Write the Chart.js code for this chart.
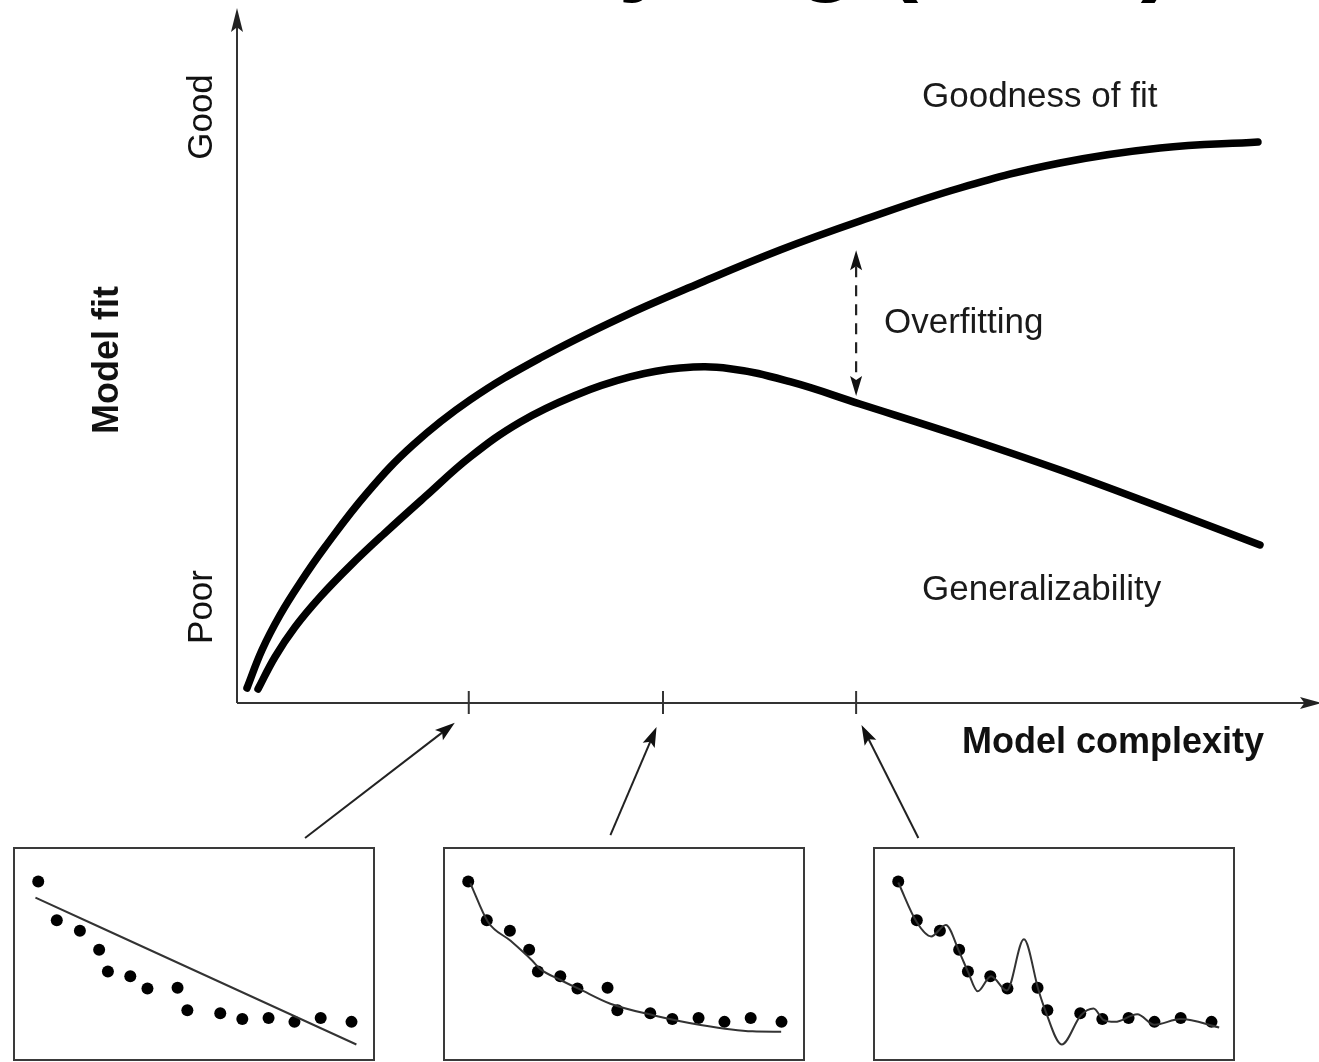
<!DOCTYPE html>
<html><head><meta charset="utf-8">
<script src="https://cdn.jsdelivr.net/npm/chart.js@4"></script>
<style>
html,body{margin:0;padding:0;background:#fff;overflow:hidden}
#wrap{position:relative;width:1319px;height:1062px;background:#fff}
#main{position:absolute;left:0;top:0}
.inset{position:absolute;top:847px;width:362px;height:214px}
.inset canvas{position:absolute;left:0;top:0}
.frame{position:absolute;left:0;top:0;right:0;bottom:0;border:2px solid #3a3a3a;box-sizing:border-box;pointer-events:none}
</style></head>
<body><div id="wrap">
<canvas id="main" width="1319" height="1062" style="width:1319px;height:1062px"></canvas>
<div class="inset" style="left:13px"><canvas id="in1" width="362" height="214" style="width:362px;height:214px"></canvas><div class="frame"></div></div>
<div class="inset" style="left:443px"><canvas id="in2" width="362" height="214" style="width:362px;height:214px"></canvas><div class="frame"></div></div>
<div class="inset" style="left:873px"><canvas id="in3" width="362" height="214" style="width:362px;height:214px"></canvas><div class="frame"></div></div>
</div>
<script>
// ---- Main chart data (model complexity 0..100, model fit 0..100) ----
const goodnessX = [0.93,2.33,4.01,5.87,8.20,12.12,16.40,21.71,28.24,35.69,43.15,50.61,58.06,67.38,76.70,86.02,95.15];
const goodnessY = [2.19,7.74,12.85,17.52,22.77,30.66,37.66,44.23,50.36,56.20,61.31,66.13,70.36,75.18,78.83,81.02,81.90];
const generalX  = [1.96,3.54,5.41,7.74,10.53,13.79,17.52,21.71,26.37,31.50,36.63,41.29,45.95,51.54,58.06,67.38,76.70,86.02,95.34];
const generalY  = [2.04,6.72,11.09,15.47,20.00,24.82,30.10,35.90,41.00,44.90,47.60,48.90,48.80,46.90,43.65,38.98,34.01,28.61,23.07];
const complexityTicks = [21.6, 39.7, 57.7];
const overfitGap = [66.1, 44.8];         // y range of the dashed arrow, at x = complexityTicks[2]
const title = "Pitt & Myung (2002)";
const yAxisTitle = "Model fit";
const xAxisTitle = "Model complexity";
const yTickLabels = ["Poor", "Good"];
const curveLabels = ["Goodness of fit", "Generalizability", "Overfitting"];

// ---- Inset data (shared sample, three fits) ----
const sampleX = [5.5,10.8,17.4,22.9,25.4,31.8,36.7,45.3,48.1,57.5,63.8,71.3,78.7,86.2,95.0];
const sampleY = [85.9,66.7,61.5,52.1,41.3,39.0,32.9,33.3,22.1,20.7,17.8,18.3,16.4,18.3,16.4];
const linearFitX = [4.7,96.4];
const linearFitY = [77.9,5.2];
const smoothFitX = [6.1,11.1,17.6,23.6,26.1,32.0,37.3,46.1,58.6,71.9,86.7,94.9];
const smoothFitY = [85.0,66.0,56.5,47.0,42.5,37.0,32.6,25.4,19.6,14.9,11.7,11.5];
const wiggleFitX = [5.5,10.8,14.9,19.1,22.9,25.4,28.2,32.0,36.5,41.4,45.6,47.5,52.2,57.7,61.3,64.1,67.4,73.8,78.7,86.2,97.2];
const wiggleFitY = [85.4,65.7,58.7,64.3,51.2,41.3,31.5,39.0,31.9,57.3,31.9,22.1,5.2,19.7,23.0,17.4,16.4,20.2,15.0,17.8,13.6];

const FONT = '"Liberation Sans", Arial, Helvetica, sans-serif';
const zip = (xs, ys) => xs.map((x, i) => ({x, y: ys[i]}));

function arrowHead(ctx, fx, fy, tx, ty, len, hw) {
  const a = Math.atan2(ty - fy, tx - fx);
  ctx.beginPath();
  ctx.moveTo(tx, ty);
  ctx.lineTo(tx - len*Math.cos(a) + hw*Math.sin(a), ty - len*Math.sin(a) - hw*Math.cos(a));
  ctx.lineTo(tx - len*Math.cos(a)*0.8, ty - len*Math.sin(a)*0.8);
  ctx.lineTo(tx - len*Math.cos(a) - hw*Math.sin(a), ty - len*Math.sin(a) + hw*Math.cos(a));
  ctx.closePath();
  ctx.fill();
}

const decor = {
  id: 'decor',
  afterDatasetsDraw(chart) {
    const ctx = chart.ctx, xs = chart.scales.x, ys = chart.scales.y, ca = chart.chartArea;
    const X = v => xs.getPixelForValue(v), Y = v => ys.getPixelForValue(v);
    ctx.save();
    // Title (cropped at the top edge)
    ctx.fillStyle = '#000';
    ctx.font = 'bold 100px ' + FONT;
    ctx.textBaseline = 'alphabetic';
    ctx.textAlign = 'left';
    const pre = ctx.measureText(title.slice(0, title.indexOf('('))).width;
    ctx.fillText(title, 885 - pre, -18);

    // Axes
    ctx.strokeStyle = '#333'; ctx.fillStyle = '#222'; ctx.lineWidth = 2;
    const ox = X(0), oy = Y(0);
    ctx.beginPath(); ctx.moveTo(ox, oy); ctx.lineTo(ox, ca.top - 2); ctx.stroke();
    arrowHead(ctx, ox, oy, ox, ca.top - 10, 24, 6);
    ctx.beginPath(); ctx.moveTo(ox, oy); ctx.lineTo(ca.right + 4, oy); ctx.stroke();
    arrowHead(ctx, ox, oy, ca.right + 12, oy, 22, 6);
    // Complexity ticks
    complexityTicks.forEach(v => {
      ctx.beginPath(); ctx.moveTo(X(v), oy - 12); ctx.lineTo(X(v), oy + 11); ctx.stroke();
    });

    // Axis labels
    ctx.fillStyle = '#111';
    ctx.font = 'bold 36px ' + FONT;
    ctx.textAlign = 'left'; ctx.textBaseline = 'middle';
    ctx.fillText(xAxisTitle, 962, oy + 40);
    ctx.save(); ctx.translate(108, 360); ctx.rotate(-Math.PI/2);
    ctx.textAlign = 'center'; ctx.fillText(yAxisTitle, 0, 0); ctx.restore();
    ctx.font = '35px ' + FONT;
    ctx.save(); ctx.translate(202, 607); ctx.rotate(-Math.PI/2);
    ctx.textAlign = 'center'; ctx.fillText(yTickLabels[0], 0, 0); ctx.restore();
    ctx.save(); ctx.translate(202, 117); ctx.rotate(-Math.PI/2);
    ctx.textAlign = 'center'; ctx.fillText(yTickLabels[1], 0, 0); ctx.restore();

    // Curve labels
    ctx.font = '35px ' + FONT; ctx.fillStyle = '#1a1a1a';
    ctx.textAlign = 'left';
    ctx.fillText(curveLabels[0], 922, 97);
    ctx.fillText(curveLabels[1], 922, 590);
    ctx.fillText(curveLabels[2], 884, 323);

    // Overfitting dashed double arrow
    const ax = X(complexityTicks[2]);
    const yTop = Y(overfitGap[0]), yBot = Y(overfitGap[1]);
    ctx.strokeStyle = '#222'; ctx.fillStyle = '#111'; ctx.lineWidth = 2.2;
    ctx.setLineDash([11, 8]);
    ctx.beginPath(); ctx.moveTo(ax, yTop + 16); ctx.lineTo(ax, yBot - 16); ctx.stroke();
    ctx.setLineDash([]);
    arrowHead(ctx, ax, yBot, ax, yTop, 20, 6);
    arrowHead(ctx, ax, yTop, ax, yBot, 20, 6);

    // Arrows from insets to ticks
    const pointers = [[6.34,-19.7,20.3,-2.9],[34.8,-19.3,39.1,-3.5],[63.5,-19.7,58.2,-3.2]];
    ctx.lineWidth = 2; ctx.strokeStyle = '#222';
    pointers.forEach(p => {
      const fx = X(p[0]), fy = Y(p[1]), tx = X(p[2]), ty = Y(p[3]);
      const a = Math.atan2(ty - fy, tx - fx);
      ctx.beginPath(); ctx.moveTo(fx, fy); ctx.lineTo(tx - 14*Math.cos(a), ty - 14*Math.sin(a)); ctx.stroke();
      arrowHead(ctx, fx, fy, tx, ty, 20, 6.5);
    });
    ctx.restore();
  }
};

new Chart(document.getElementById('main'), {
  type: 'line',
  data: {
    datasets: [
      { label: curveLabels[0], data: zip(goodnessX, goodnessY), borderColor: '#000', borderWidth: 7.5,
        pointRadius: 0, tension: 0.4, borderCapStyle: 'round', borderJoinStyle: 'round', fill: false },
      { label: curveLabels[1], data: zip(generalX, generalY), borderColor: '#000', borderWidth: 7.5,
        pointRadius: 0, tension: 0.4, borderCapStyle: 'round', borderJoinStyle: 'round', fill: false }
    ]
  },
  options: {
    responsive: false, animation: false, events: [],
    layout: { padding: { left: 237, right: 9, top: 18, bottom: 359 } },
    plugins: { legend: { display: false }, tooltip: { enabled: false } },
    scales: {
      x: { type: 'linear', min: 0, max: 100, display: false },
      y: { type: 'linear', min: 0, max: 100, display: false }
    }
  },
  plugins: [decor]
});

function inset(id, fitX, fitY) {
  new Chart(document.getElementById(id), {
    type: 'scatter',
    data: {
      datasets: [
        { data: zip(fitX, fitY), showLine: true, pointRadius: 0, borderColor: '#333', borderWidth: 2,
          cubicInterpolationMode: 'monotone', fill: false },
        { data: zip(sampleX, sampleY), pointRadius: 6, backgroundColor: '#000', borderWidth: 0 }
      ]
    },
    options: {
      responsive: false, animation: false, events: [],
      layout: { padding: 0 },
      plugins: { legend: { display: false }, tooltip: { enabled: false } },
      scales: {
        x: { type: 'linear', min: 0, max: 100, display: false },
        y: { type: 'linear', min: 0, max: 100, display: false }
      }
    }
  });
}
inset('in1', linearFitX, linearFitY);
inset('in2', smoothFitX, smoothFitY);
inset('in3', wiggleFitX, wiggleFitY);
</script>
</body></html>
